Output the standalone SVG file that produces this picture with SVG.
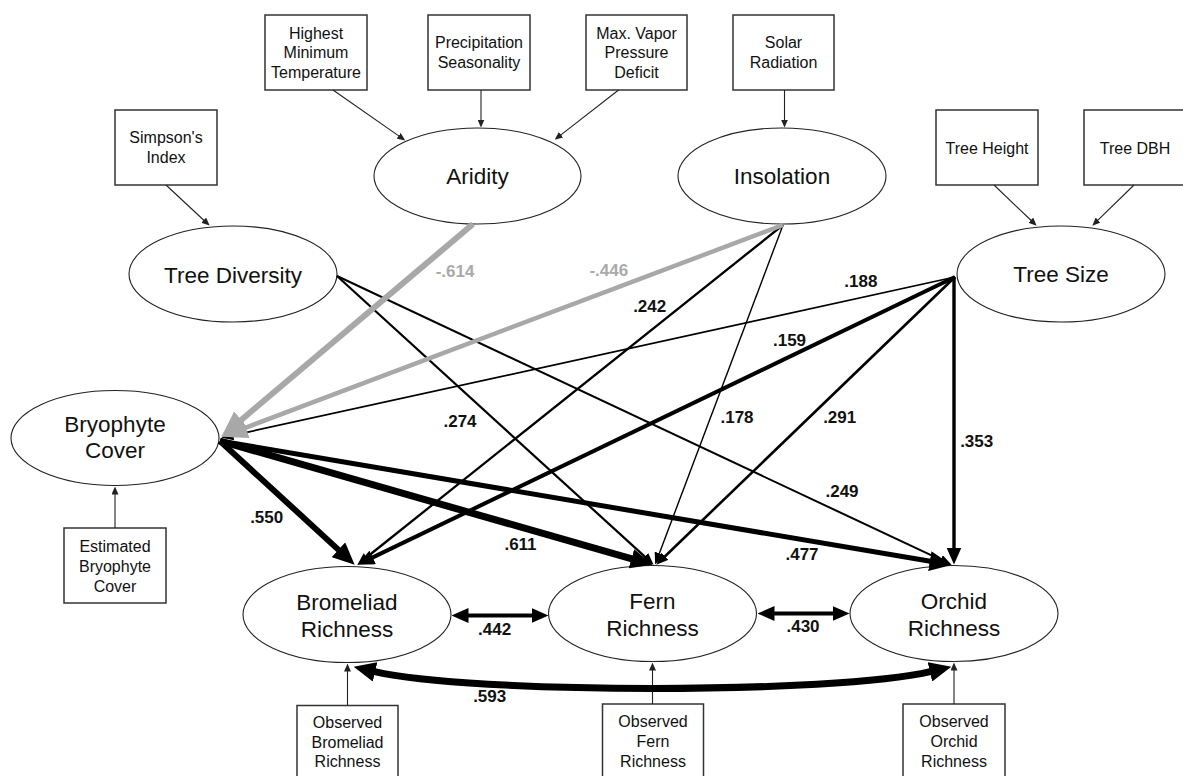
<svg xmlns="http://www.w3.org/2000/svg" width="1183" height="776" viewBox="0 0 1183 776">
<style>
text{font-family:"Liberation Sans",Arial,sans-serif;fill:#111;text-anchor:middle}
.box rect{fill:#fff;stroke:#333;stroke-width:1.5}
.box text{font-size:16px}
.lat ellipse{fill:#fff;stroke:#222;stroke-width:1.1}
.lat text{font-size:22.5px}
.ind{stroke:#222;stroke-width:1.1;fill:none}
.p{stroke:#000;fill:none}
.g{stroke:#a8a8a8;fill:none}
.c{font-size:17px;font-weight:bold}
.cg{font-size:17px;font-weight:bold;fill:#aaa}
</style>
<defs>
<marker id="hi" viewBox="0 0 8 7" refX="0.5" refY="3.5" markerWidth="8" markerHeight="7" markerUnits="userSpaceOnUse" orient="auto"><path d="M0,0L8,3.5L0,7z" fill="#222"/></marker>
<marker id="hs" viewBox="0 0 12 10" refX="0.5" refY="5" markerWidth="12" markerHeight="10" markerUnits="userSpaceOnUse" orient="auto"><path d="M0,0L12,5L0,10z" fill="#000"/></marker>
<marker id="hm" viewBox="0 0 17 15" refX="0.5" refY="7.5" markerWidth="17" markerHeight="15" markerUnits="userSpaceOnUse" orient="auto-start-reverse"><path d="M0,0L17,7.5L0,15z" fill="#000"/></marker>
<marker id="hl" viewBox="0 0 22 20" refX="0.5" refY="10" markerWidth="22" markerHeight="20" markerUnits="userSpaceOnUse" orient="auto-start-reverse"><path d="M0,0L22,10L0,20z" fill="#000"/></marker>
<marker id="hg" viewBox="0 0 26 22" refX="0.5" refY="11" markerWidth="26" markerHeight="22" markerUnits="userSpaceOnUse" orient="auto"><path d="M0,0L26,11L0,22z" fill="#a8a8a8"/></marker>
</defs>

<g id="node-highest" class="box"><rect x="265" y="15" width="102" height="75"/><text x="316" y="38.5">Highest</text><text x="316" y="58">Minimum</text><text x="316" y="77.5">Temperature</text></g>
<g id="node-precip" class="box"><rect x="428" y="15" width="102" height="75"/><text x="479" y="48">Precipitation</text><text x="479" y="68">Seasonality</text></g>
<g id="node-vpd" class="box"><rect x="586" y="15" width="101" height="75"/><text x="636.5" y="38.5">Max. Vapor</text><text x="636.5" y="58">Pressure</text><text x="636.5" y="77.5">Deficit</text></g>
<g id="node-solar" class="box"><rect x="733" y="15" width="101" height="75"/><text x="783.5" y="48">Solar</text><text x="783.5" y="68">Radiation</text></g>
<g id="node-simpson" class="box"><rect x="115" y="110" width="102" height="75"/><text x="166" y="143.3">Simpson's</text><text x="166" y="163.3">Index</text></g>
<g id="node-treeheight" class="box"><rect x="936" y="110" width="102" height="75"/><text x="987" y="153.5">Tree Height</text></g>
<g id="node-treedbh" class="box"><rect x="1084" y="110" width="102" height="75"/><text x="1135" y="153.5">Tree DBH</text></g>
<g id="node-estbryo" class="box"><rect x="64" y="528" width="102" height="75"/><text x="115" y="551.7">Estimated</text><text x="115" y="571.7">Bryophyte</text><text x="115" y="591.7">Cover</text></g>
<g id="node-obsbrom" class="box"><rect x="297" y="705.5" width="101" height="75"/><text x="347.5" y="728.3">Observed</text><text x="347.5" y="748.3">Bromeliad</text><text x="347.5" y="767.3">Richness</text></g>
<g id="node-obsfern" class="box"><rect x="602.5" y="704" width="101" height="75"/><text x="653" y="727">Observed</text><text x="653" y="747">Fern</text><text x="653" y="766.5">Richness</text></g>
<g id="node-obsorch" class="box"><rect x="903" y="704" width="102" height="75"/><text x="954" y="727">Observed</text><text x="954" y="747">Orchid</text><text x="954" y="766.5">Richness</text></g>

<g id="node-aridity" class="lat"><ellipse cx="477.5" cy="176" rx="103.5" ry="48"/><text x="477.5" y="184.3">Aridity</text></g>
<g id="node-insolation" class="lat"><ellipse cx="782" cy="176" rx="104" ry="48"/><text x="782" y="184.3">Insolation</text></g>
<g id="node-treediv" class="lat"><ellipse cx="233" cy="274" rx="104" ry="48"/><text x="233" y="283.3">Tree Diversity</text></g>
<g id="node-treesize" class="lat"><ellipse cx="1061" cy="274" rx="104" ry="48"/><text x="1061" y="282">Tree Size</text></g>
<g id="node-bryo" class="lat"><ellipse cx="115" cy="438" rx="104" ry="47.5"/><text x="115" y="431.7">Bryophyte</text><text x="115" y="458.3">Cover</text></g>
<g id="node-brom" class="lat"><ellipse cx="347" cy="614.5" rx="104" ry="48"/><text x="347" y="610">Bromeliad</text><text x="347" y="636.7">Richness</text></g>
<g id="node-fern" class="lat"><ellipse cx="652.5" cy="613.5" rx="104" ry="48"/><text x="652.5" y="609.3">Fern</text><text x="652.5" y="636">Richness</text></g>
<g id="node-orchid" class="lat"><ellipse cx="954" cy="613.5" rx="104" ry="48"/><text x="954" y="609.3">Orchid</text><text x="954" y="636">Richness</text></g>

<g id="connectors">
<line class="ind" x1="333" y1="90" x2="399.1" y2="136.1" marker-end="url(#hi)"/>
<line class="ind" x1="481" y1="90" x2="481" y2="120" marker-end="url(#hi)"/>
<line class="ind" x1="618.6" y1="90" x2="560.6" y2="135.1" marker-end="url(#hi)"/>
<line class="ind" x1="784.5" y1="90" x2="784.5" y2="120" marker-end="url(#hi)"/>
<line class="ind" x1="166" y1="185" x2="204.1" y2="220.5" marker-end="url(#hi)"/>
<line class="ind" x1="994" y1="185" x2="1031.2" y2="220.5" marker-end="url(#hi)"/>
<line class="ind" x1="1134" y1="185" x2="1097.7" y2="220.4" marker-end="url(#hi)"/>
<line class="ind" x1="115" y1="528" x2="115" y2="494" marker-end="url(#hi)"/>
<line class="ind" x1="347.5" y1="705.5" x2="347.5" y2="671" marker-end="url(#hi)"/>
<line class="ind" x1="652.5" y1="704" x2="652.5" y2="670" marker-end="url(#hi)"/>
<line class="ind" x1="954" y1="704" x2="954" y2="670" marker-end="url(#hi)"/>

<line class="p" stroke-width="1.7" x1="955" y1="277" x2="232.7" y2="435.4" marker-end="url(#hs)"/>
<line class="p" stroke-width="2.3" x1="783" y1="225" x2="366.4" y2="557.5" marker-end="url(#hs)"/>
<line class="p" stroke-width="1.4" x1="783" y1="225" x2="659.2" y2="553.8" marker-end="url(#hs)"/>
<line class="p" stroke-width="4" x1="955" y1="277" x2="372.3" y2="557.6" marker-end="url(#hm)"/>
<line class="p" stroke-width="2.6" x1="955" y1="277" x2="664.6" y2="556.7" marker-end="url(#hs)"/>
<line class="p" stroke-width="3.4" x1="954" y1="277" x2="954" y2="548" marker-end="url(#hm)"/>
<line class="p" stroke-width="2.2" x1="337" y1="276" x2="645.1" y2="556.9" marker-end="url(#hs)"/>
<line class="p" stroke-width="2" x1="337" y1="276" x2="941.1" y2="559.9" marker-end="url(#hs)"/>
<line class="p" stroke-width="6" x1="220" y1="441" x2="338.8" y2="550.1" marker-end="url(#hl)"/>
<line class="p" stroke-width="7" x1="220" y1="441" x2="631.9" y2="558.9" marker-end="url(#hl)"/>
<line class="p" stroke-width="5" x1="220" y1="441" x2="930.3" y2="561.3" marker-end="url(#hl)"/>
<line class="p" stroke-width="4" x1="468" y1="615.5" x2="532" y2="615.5" marker-start="url(#hm)" marker-end="url(#hm)"/>
<line class="p" stroke-width="4" x1="774" y1="613.5" x2="833" y2="613.5" marker-start="url(#hm)" marker-end="url(#hm)"/>
<path class="p" stroke-width="7" d="M374.6,671.7 C470,694 835,694 930.4,671.7" marker-start="url(#hl)" marker-end="url(#hl)"/>
<line class="g" stroke-width="6" x1="473" y1="224" x2="240.9" y2="420.2" marker-end="url(#hg)"/>
<line class="g" stroke-width="4.5" x1="783" y1="225" x2="245.3" y2="427.8" marker-end="url(#hg)"/>

<text class="cg" x="455" y="277.3">-.614</text>
<text class="cg" x="608.8" y="276">-.446</text>
<text class="c" x="649.7" y="311.7">.242</text>
<text class="c" x="860.8" y="287.3">.188</text>
<text class="c" x="789.5" y="345.7">.159</text>
<text class="c" x="737" y="423.3">.178</text>
<text class="c" x="839.7" y="423.3">.291</text>
<text class="c" x="842" y="496.7">.249</text>
<text class="c" x="976.7" y="446.7">.353</text>
<text class="c" x="802" y="560">.477</text>
<text class="c" x="460" y="426.7">.274</text>
<text class="c" x="266.7" y="522.7">.550</text>
<text class="c" x="520.5" y="550">.611</text>
<text class="c" x="494.6" y="635">.442</text>
<text class="c" x="803" y="631.7">.430</text>
<text class="c" x="489.7" y="701.7">.593</text>
</g>
</svg>
